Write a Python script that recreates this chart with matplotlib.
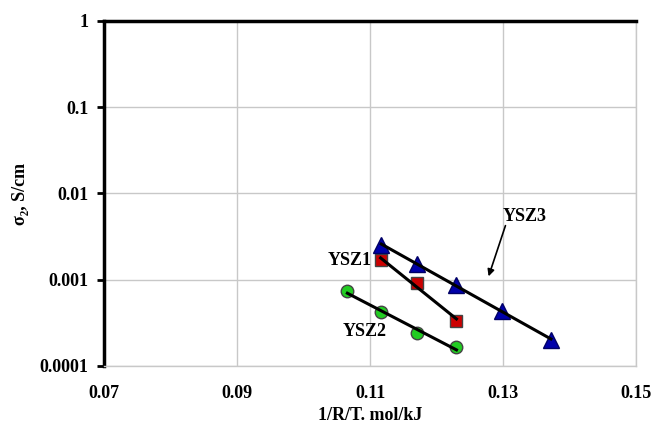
import numpy as np
import matplotlib.pyplot as plt

plt.rcParams['font.family'] = ['Liberation Serif', 'DejaVu Serif']
plt.rcParams['font.weight'] = 'bold'

# data
x_ysz1 = [0.1116, 0.1171, 0.1230]
y_ysz1 = [0.00169, 0.00091, 0.000333]

x_ysz2 = [0.1066, 0.1116, 0.1170, 0.1230]
y_ysz2 = [0.000747, 0.000423, 0.000239, 0.000167]

x_ysz3 = [0.1117, 0.1171, 0.1230, 0.1298, 0.1372]
y_ysz3 = [0.00253, 0.00152, 0.00087, 0.000438, 0.0002]

x_ticks = [0.07, 0.09, 0.11, 0.13, 0.15]
y_ticks = [0.0001, 0.001, 0.01, 0.1, 1]
y_labels = ["0.0001", "0.001", "0.01", "0.1", "1"]

fig = plt.figure(figsize=(6.54, 4.23), dpi=100)
ax = fig.add_axes([0.159, 0.1348, 0.8135, 0.8156])

series = [
    (x_ysz1, y_ysz1, "s", 9, "#cc0000", "#444444"),
    (x_ysz2, y_ysz2, "o", 9, "#22cc22", "#444444"),
    (x_ysz3, y_ysz3, "^", 11, "#0000aa", "#000066"),
]
for xs, ys, m, ms, fc, ec in series:
    # exponential trend line (straight on log axis)
    k, b = np.polyfit(xs, np.log10(ys), 1)
    xl = np.array([xs[0], xs[-1]])
    ax.plot(xl, 10 ** (k * xl + b), color="black", lw=2.2, zorder=3)
    ax.plot(xs, ys, ls="none", marker=m, ms=ms, mfc=fc, mec=ec, mew=1,
            zorder=2)

ax.set_yscale("log")
ax.set_xlim(0.07, 0.15)
ax.set_ylim(0.0001, 1)
ax.set_xticks(x_ticks)
ax.set_xticklabels([f"{v:.2f}" for v in x_ticks])
ax.set_yticks(y_ticks)
ax.set_yticklabels(y_labels)
ax.minorticks_off()
ax.tick_params(axis="x", length=0, labelsize=13, pad=14)
ax.tick_params(axis="y", length=5, width=2, labelsize=13, pad=6)

ax.grid(True, color="#c8c8c8", lw=1)
ax.set_axisbelow(True)
for side in ["bottom", "right"]:
    ax.spines[side].set_color("#c8c8c8")
    ax.spines[side].set_linewidth(1)
for side in ["left", "top"]:
    ax.spines[side].set_linewidth(2.5)

ax.set_xlabel("1/R/T. mol/kJ", fontsize=13, fontweight="bold", labelpad=3)
ax.set_ylabel("σ₂, S/cm", fontsize=13, fontweight="bold", labelpad=8)

ax.text(0.1103, 0.00169, "YSZ1", fontsize=13, fontweight="bold",
        va="center", ha="right")
ax.text(0.1059, 0.000248, "YSZ2", fontsize=13, fontweight="bold",
        va="center")
ax.text(0.1299, 0.00534, "YSZ3", fontsize=13, fontweight="bold",
        va="center")
ax.annotate("", xy=(0.1277, 0.00102), xytext=(0.1305, 0.00455),
            arrowprops=dict(arrowstyle="-|>", color="black", lw=1.2,
                            mutation_scale=10))

fig.savefig("out.png", dpi=100)
